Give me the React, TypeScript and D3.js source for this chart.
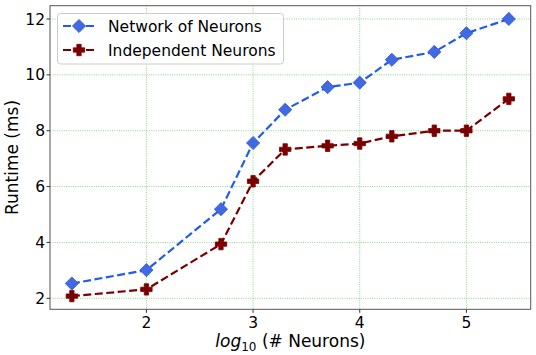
import React from "react";
import * as d3 from "d3";

const xValues = [1.301, 2, 2.699, 3, 3.301, 3.699, 4, 4.301, 4.699, 5, 5.398];
const networkValues = [2.53, 3.01, 5.19, 7.56, 8.75, 9.56, 9.72, 10.54, 10.82, 11.49, 12.0];
const independentValues = [2.08, 2.32, 3.94, 6.19, 7.33, 7.46, 7.54, 7.8, 8.0, 8.0, 9.14];
const xTicks = [2, 3, 4, 5];
const yTicks = [2, 4, 6, 8, 10, 12];
const seriesNames = ["Network of Neurons", "Independent Neurons"];

const W = 536, H = 355;
const L = 50, R = 530.7, T = 5.7, B = 309.3;
const FONT = "DejaVu Sans, sans-serif";
const BLUE = "#1f5ee6";
const BLUE_M = "#4169e1";
const RED = "#7a0000";
const DR = 6.6;
const PS = 5.7;

function diamond(cx: number, cy: number, r: number) {
  return `M${cx},${cy - r}L${cx + r},${cy}L${cx},${cy + r}L${cx - r},${cy}Z`;
}
function plus(cx: number, cy: number, s: number) {
  const a = s, b = s * 0.38;
  return `M${cx - b},${cy - a}H${cx + b}V${cy - b}H${cx + a}V${cy + b}H${cx + b}V${cy + a}H${cx - b}V${cy + b}H${cx - a}V${cy - b}H${cx - b}Z`;
}

export default function App() {
  const x = d3.scaleLinear().domain([1.096, 5.603]).range([L, R]);
  const y = d3.scaleLinear().domain([1.607, 12.475]).range([B, T]);
  const line = d3.line<number>().x((_, i) => x(xValues[i])).y((d) => y(d));

  return (
    <svg width={W} height={H} style={{ position: "absolute", left: 0, top: 0 }}>
      <rect width={W} height={H} fill="#fff" />
      {xTicks.map((t) => (
        <line key={"gx" + t} x1={x(t)} x2={x(t)} y1={T} y2={B} stroke="#7fcf7f" strokeWidth={0.9} strokeDasharray="1,1.3" />
      ))}
      {yTicks.map((t) => (
        <line key={"gy" + t} x1={L} x2={R} y1={y(t)} y2={y(t)} stroke="#7fcf7f" strokeWidth={0.9} strokeDasharray="1,1.3" />
      ))}
      <path d={line(independentValues) || ""} fill="none" stroke={RED} strokeWidth={2.2} strokeDasharray="8,3.5" />
      <path d={line(networkValues) || ""} fill="none" stroke={BLUE} strokeWidth={2.2} strokeDasharray="8,3.5" />
      {networkValues.map((v, i) => (
        <path key={"n" + i} d={diamond(x(xValues[i]), y(v), DR)} fill={BLUE_M} stroke="#3458c8" strokeWidth={0.8} />
      ))}
      {independentValues.map((v, i) => (
        <path key={"p" + i} d={plus(x(xValues[i]), y(v), PS)} fill={RED} stroke={RED} strokeWidth={0.8} />
      ))}
      <rect x={L} y={T} width={R - L} height={B - T} fill="none" stroke="#555" strokeWidth={1} />
      {xTicks.map((t) => (
        <g key={"tx" + t}>
          <line x1={x(t)} x2={x(t)} y1={B} y2={B + 3.5} stroke="#333" strokeWidth={1} />
          <text x={x(t)} y={B + 19} textAnchor="middle" fontFamily={FONT} fontSize={15.5} fill="#000">{t}</text>
        </g>
      ))}
      {yTicks.map((t) => (
        <g key={"ty" + t}>
          <line x1={L - 3.5} x2={L} y1={y(t)} y2={y(t)} stroke="#333" strokeWidth={1} />
          <text x={L - 5} y={y(t)} dy="0.36em" textAnchor="end" fontFamily={FONT} fontSize={15.5} fill="#000">{t}</text>
        </g>
      ))}
      <text transform={`translate(17.5,${(T + B) / 2}) rotate(-90)`} textAnchor="middle" fontFamily={FONT} fontSize={17} fill="#000">Runtime (ms)</text>
      <text x={(L + R) / 2} y={347} textAnchor="middle" fontFamily={FONT} fontSize={17} fill="#000">
        <tspan fontStyle="italic">log</tspan>
        <tspan fontSize={12} dy={3.5}>10</tspan>
        <tspan dy={-3.5}> (# Neurons)</tspan>
      </text>
      <g>
        <rect x={57.5} y={13.5} width={226} height={50.5} rx={3} fill="#fff" fillOpacity={0.8} stroke="#ccc" strokeWidth={1} />
        <line x1={63} x2={95} y1={26} y2={26} stroke={BLUE} strokeWidth={2.2} strokeDasharray="8,3.5" />
        <path d={diamond(79, 26, DR)} fill={BLUE_M} stroke="#3458c8" strokeWidth={0.8} />
        <text x={108} y={31.5} fontFamily={FONT} fontSize={15.5} fill="#000">{seriesNames[0]}</text>
        <line x1={63} x2={95} y1={50} y2={50} stroke={RED} strokeWidth={2.2} strokeDasharray="8,3.5" />
        <path d={plus(79, 50, PS)} fill={RED} stroke={RED} strokeWidth={0.8} />
        <text x={108} y={55.5} fontFamily={FONT} fontSize={15.5} fill="#000">{seriesNames[1]}</text>
      </g>
    </svg>
  );
}
